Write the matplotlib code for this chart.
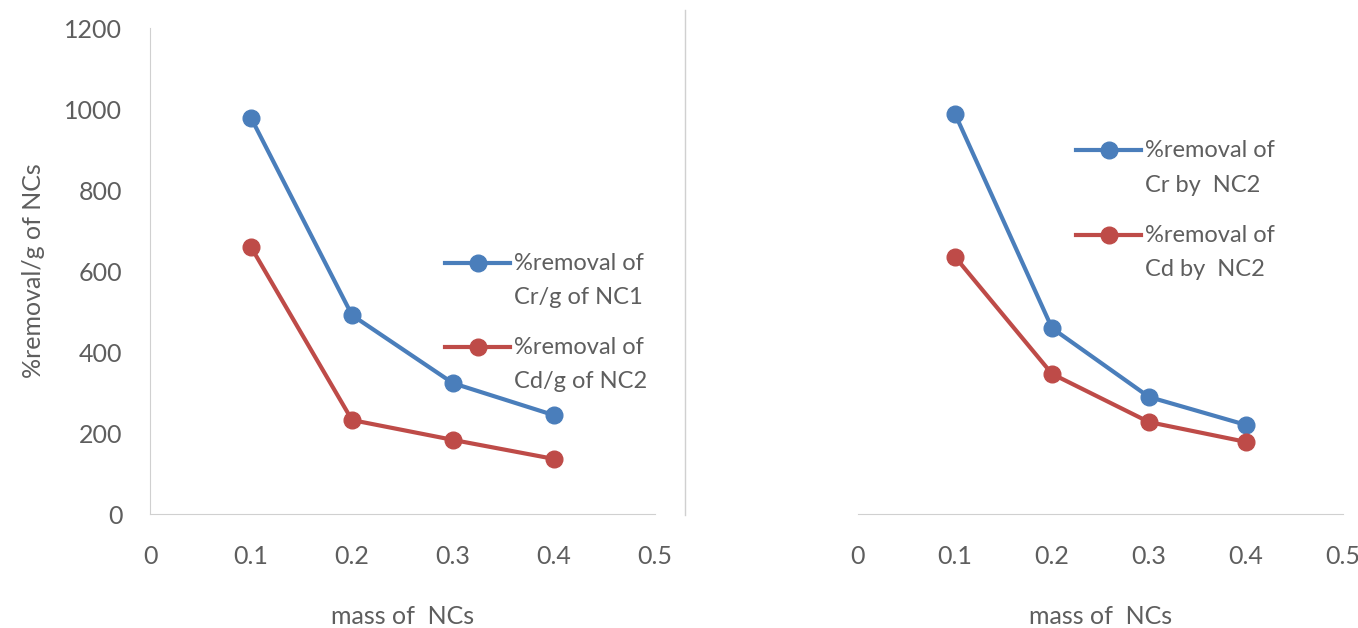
import matplotlib.pyplot as plt
from matplotlib.lines import Line2D

plt.rcParams['font.family'] = ['Lato', 'DejaVu Sans']

# massa de NCs (g)
mass = [0.1, 0.2, 0.3, 0.4]

# NC1 / NC2 por grama
cr_nc1 = [978, 491, 323, 244]
cd_nc2 = [659, 232, 183, 136]

# NC2
cr_by_nc2 = [988, 459, 289, 220]
cd_by_nc2 = [635, 346, 227, 178]

xticks = [0, 0.1, 0.2, 0.3, 0.4, 0.5]
xticklabels = ['0', '0.1', '0.2', '0.3', '0.4', '0.5']
yticks = [0, 200, 400, 600, 800, 1000, 1200]

blue = '#4A7EBB'
red = '#BE4B48'
grey_txt = '#5E5E5E'
grey_ax = '#D0D0D0'

W, H = 1358, 628
fig = plt.figure(figsize=(W / 100, H / 100), dpi=100)
ax1 = fig.add_axes([0.1105, 0.1815, 0.3718, 0.7739])
ax2 = fig.add_axes([0.6318, 0.1815, 0.3572, 0.7739])


def estilo(ax, show_y):
    ax.set_xlim(0, 0.5)
    ax.set_ylim(0, 1200)
    ax.set_xticks(xticks)
    ax.set_xticklabels(xticklabels)
    ax.set_yticks(yticks)
    for s in ['top', 'right']:
        ax.spines[s].set_visible(False)
    ax.spines['bottom'].set_color(grey_ax)
    ax.spines['left'].set_color(grey_ax)
    ax.spines['left'].set_visible(show_y)
    ax.tick_params(axis='x', length=0, pad=22, labelsize=18, labelcolor=grey_txt)
    ax.tick_params(axis='y', length=0, pad=20, labelsize=18, labelcolor=grey_txt)
    if not show_y:
        ax.set_yticklabels([])
    ax.set_xlabel('mass of  NCs', fontsize=18, color=grey_txt, labelpad=27)


# legenda feita a mao: linha com marcador e texto em duas linhas
def legenda(x0, y0, cor, linhas):
    x1 = x0 + 65
    fig.add_artist(Line2D([x0 / W, x1 / W], [1 - y0 / H, 1 - y0 / H],
                          color=cor, linewidth=3))
    fig.add_artist(Line2D([(x0 + x1) / 2 / W], [1 - y0 / H], color=cor,
                          marker='o', markersize=12, linestyle='none'))
    for i, t in enumerate(linhas):
        fig.text((x1 + 4) / W, 1 - (y0 + 35 * i) / H, t, fontsize=17,
                 color=grey_txt, va='center', ha='left')


kw = dict(linewidth=3, marker='o', markersize=12)

ax1.plot(mass, cr_nc1, color=blue, **kw)
ax1.plot(mass, cd_nc2, color=red, **kw)
estilo(ax1, True)
ax1.set_ylabel('%removal/g of NCs', fontsize=18, color=grey_txt, labelpad=14)
legenda(445, 263, blue, ['%removal of', 'Cr/g of NC1'])
legenda(445, 347, red, ['%removal of', 'Cd/g of NC2'])

ax2.plot(mass, cr_by_nc2, color=blue, **kw)
ax2.plot(mass, cd_by_nc2, color=red, **kw)
estilo(ax2, False)
legenda(1076, 150, blue, ['%removal of', 'Cr by  NC2'])
legenda(1076, 235, red, ['%removal of', 'Cd by  NC2'])

# linha separadora entre os dois graficos
fig.add_artist(Line2D([685 / W, 685 / W], [1 - 10 / H, 1 - 515 / H],
                      color=grey_ax, linewidth=1))

fig.savefig('out.png', dpi=100, facecolor='white')
